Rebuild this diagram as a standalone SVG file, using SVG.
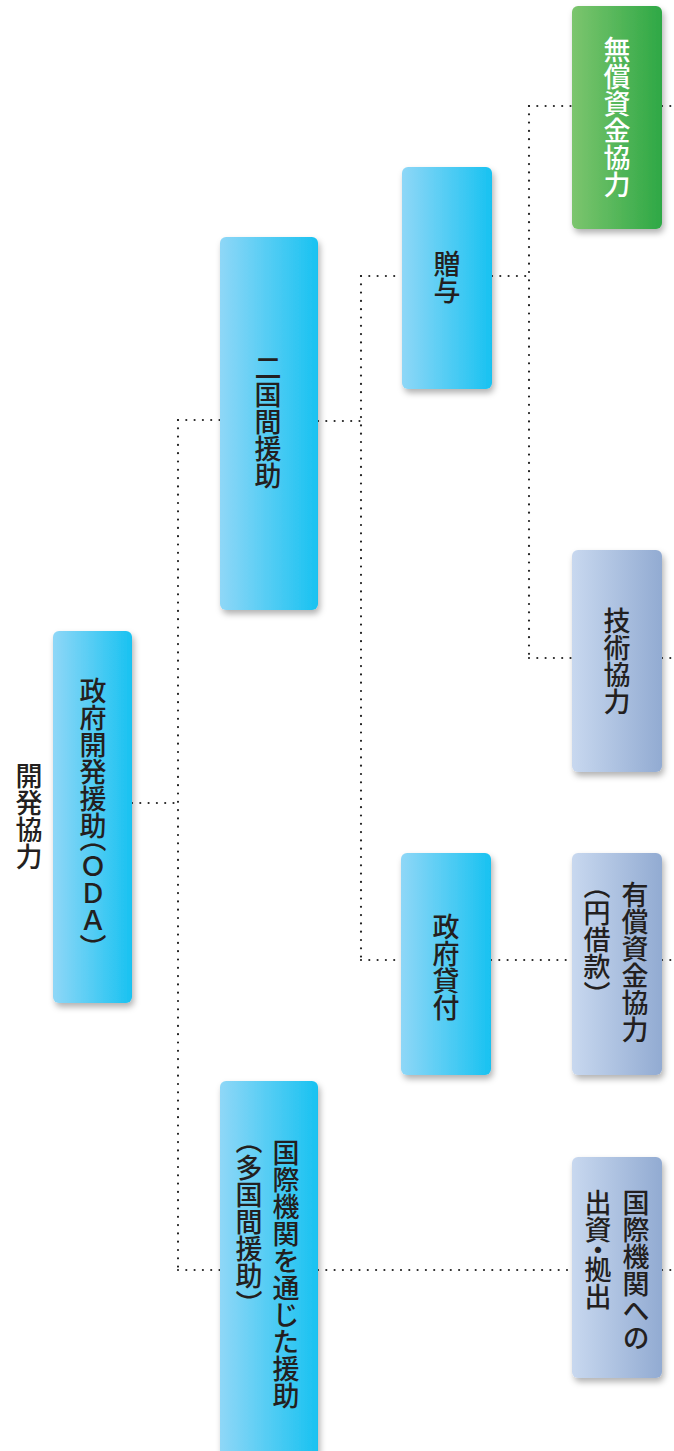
<svg xmlns="http://www.w3.org/2000/svg" width="674" height="1451" viewBox="0 0 674 1451">
<style>
.box{filter:url(#sh)}
.blue{fill:url(#gBlue)}
.green{fill:url(#gGreen)}
.grey{fill:url(#gGrey)}
.t{font-family:"Noto Sans CJK JP","Noto Sans CJK SC",sans-serif;font-size:27px;font-weight:500;fill:#231f20;writing-mode:vertical-rl}
.h{font-feature-settings:"vhal" 1}
.w{fill:#ffffff}
.dot{fill:none;stroke:#222;stroke-width:2.2;stroke-dasharray:0 8.3;stroke-linecap:round}
</style>
<defs>
<linearGradient id="gBlue" x1="0" y1="0" x2="1" y2="0">
<stop offset="0" stop-color="#8fd7f7"/>
<stop offset="1" stop-color="#18c2f1"/>
</linearGradient>
<linearGradient id="gGreen" x1="0" y1="0" x2="1" y2="0">
<stop offset="0" stop-color="#7cc56e"/>
<stop offset="1" stop-color="#2ea845"/>
</linearGradient>
<linearGradient id="gGrey" x1="0" y1="0" x2="1" y2="0">
<stop offset="0" stop-color="#c8d8ef"/>
<stop offset="1" stop-color="#92abd2"/>
</linearGradient>
<filter id="sh" x="-20%" y="-10%" width="150%" height="130%">
<feDropShadow dx="2" dy="4" stdDeviation="3" flood-color="#000" flood-opacity="0.3"/>
</filter>
</defs>
<g id="connectors">
<path class="dot" d="M132 803H178"/>
<path class="dot" d="M178 420V1270"/>
<path class="dot" d="M178 420H220"/>
<path class="dot" d="M178 1270H220"/>
<path class="dot" d="M318 421H361"/>
<path class="dot" d="M361 276V960"/>
<path class="dot" d="M361 276H402"/>
<path class="dot" d="M361 960H401"/>
<path class="dot" d="M492 276H529"/>
<path class="dot" d="M529 106V658"/>
<path class="dot" d="M529 106H572"/>
<path class="dot" d="M529 658H572"/>
<path class="dot" d="M662 106H674"/>
<path class="dot" d="M662 658H674"/>
<path class="dot" d="M491 960H572"/>
<path class="dot" d="M662 960H674"/>
<path class="dot" d="M318 1270H572"/>
<path class="dot" d="M662 1270H674"/>
</g>
<g id="root">
<text class="t" x="29" y="816" text-anchor="middle">開発協力</text>
</g>
<g id="oda">
<rect class="box blue" x="53" y="631" width="79" height="372" rx="6"/>
<text class="t" x="93" y="812" text-anchor="middle">政府開発援助<tspan class="h">（</tspan>ＯＤＡ<tspan class="h">）</tspan></text>
</g>
<g id="bilateral">
<rect class="box blue" x="220" y="237" width="98" height="373" rx="6"/>
<text class="t" x="268" y="422" text-anchor="middle">二国間援助</text>
</g>
<g id="multilateral">
<rect class="box blue" x="220" y="1081" width="98" height="390" rx="6"/>
<text class="t" x="286" y="1139">国際機関を通じた援助</text>
<text class="t" x="249" y="1141"><tspan class="h">（</tspan>多国間援助<tspan class="h">）</tspan></text>
</g>
<g id="grant">
<rect class="box blue" x="402" y="167" width="90" height="222" rx="6"/>
<text class="t" x="447" y="277" text-anchor="middle">贈与</text>
</g>
<g id="loan">
<rect class="box blue" x="401" y="853" width="90" height="222" rx="6"/>
<text class="t" x="446" y="967" text-anchor="middle">政府貸付</text>
</g>
<g id="grant-aid">
<rect class="box green" x="572" y="6" width="90" height="223" rx="6"/>
<text class="t w" x="617" y="117" text-anchor="middle">無償資金協力</text>
</g>
<g id="technical">
<rect class="box grey" x="572" y="550" width="90" height="222" rx="6"/>
<text class="t" x="617" y="661" text-anchor="middle">技術協力</text>
</g>
<g id="yen-loan">
<rect class="box grey" x="572" y="853" width="90" height="222" rx="6"/>
<text class="t" x="635" y="881">有償資金協力</text>
<text class="t" x="597" y="886"><tspan class="h">（</tspan>円借款<tspan class="h">）</tspan></text>
</g>
<g id="intl">
<rect class="box grey" x="572" y="1157" width="90" height="221" rx="6"/>
<text class="t" x="636" y="1189">国際機関への</text>
<text class="t" x="598" y="1189">出資<tspan class="h">・</tspan>拠出</text>
</g>
</svg>
